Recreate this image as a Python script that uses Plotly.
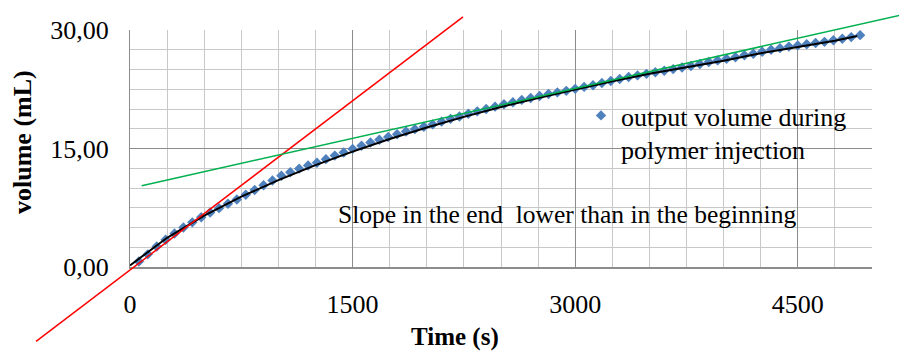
import plotly.graph_objects as go

# ---- data ----
time_s = [60, 120, 180, 240, 300, 360, 420, 480, 540, 600, 660, 720, 780, 840, 900, 960,
          1020, 1080, 1140, 1200, 1260, 1320, 1380, 1440, 1500, 1560, 1620, 1680, 1740,
          1800, 1860, 1920, 1980, 2040, 2100, 2160, 2220, 2280, 2340, 2400, 2460, 2520,
          2580, 2640, 2700, 2760, 2820, 2880, 2940, 3000, 3060, 3120, 3180, 3240, 3300,
          3360, 3420, 3480, 3540, 3600, 3660, 3720, 3780, 3840, 3900, 3960, 4020, 4080,
          4140, 4200, 4260, 4320, 4380, 4440, 4500, 4560, 4620, 4680, 4740, 4800, 4860, 4920]
volume_ml = [0.7, 1.6, 2.6, 3.45, 4.25, 5.0, 5.65, 6.3, 6.9, 7.45, 8.0, 8.55, 9.15, 9.75,
             10.35, 10.95, 11.55, 12.0, 12.45, 12.85, 13.2, 13.65, 14.1, 14.5, 14.95, 15.35,
             15.75, 16.1, 16.45, 16.8, 17.15, 17.45, 17.75, 18.05, 18.4, 18.75, 19.05, 19.4,
             19.7, 20.0, 20.3, 20.6, 20.85, 21.15, 21.4, 21.65, 21.9, 22.1, 22.3, 22.55, 22.8,
             23.0, 23.3, 23.55, 23.8, 24.05, 24.25, 24.45, 24.65, 24.85, 25.05, 25.25, 25.45,
             25.7, 25.95, 26.15, 26.35, 26.55, 26.8, 27.0, 27.25, 27.5, 27.7, 27.9, 28.05,
             28.2, 28.35, 28.5, 28.7, 28.9, 29.1, 29.35]

# polynomial trend curve (black)
trend_t = [0, 250, 500, 750, 1000, 1250, 1500, 1750, 2000, 2250, 2500, 2750, 3000,
           3250, 3500, 3750, 4000, 4250, 4500, 4750, 4900]
trend_v = [0.2, 3.7, 6.5, 8.9, 11.0, 12.9, 14.6, 16.2, 17.65, 19.0, 20.25, 21.4, 22.45,
           23.5, 24.45, 25.3, 26.1, 27.05, 27.85, 28.65, 29.25]

# linear slope lines: [slope, intercept, t_start, t_end]
early_slope = [0.01428, -0.38, -633, 2244]
late_slope = [0.00422, 9.96, 79, 5400]

x_ticks = [0, 1500, 3000, 4500]
y_ticks = [0, 15, 30]
legend_label = "output volume during<br>polymer injection"
note_text = "Slope in the end&nbsp; lower than in the beginning"
x_title = "Time (s)"
y_title = "volume (mL)"

# ---- layout geometry ----
W, H = 899, 351
L, R, T, B = 130, 872, 30, 267
x_rng = [0, 5000]
y_rng = [0, 30]
xd = [L / W, R / W]
yd = [1 - B / H, 1 - T / H]
# overlay axes spanning the whole figure, same scale as main axes
sx = (x_rng[1] - x_rng[0]) / (R - L)
sy = (y_rng[1] - y_rng[0]) / (B - T)
x2_rng = [x_rng[0] - L * sx, x_rng[1] + (W - R) * sx]
y2_rng = [y_rng[0] - (H - B) * sy, y_rng[1] + T * sy]

FONT = "Liberation Serif, Times New Roman, serif"
FS = 26

fig = go.Figure()
fig.add_trace(go.Scatter(
    x=time_s, y=volume_ml, mode="markers", name=legend_label,
    marker=dict(symbol="diamond", size=8, color="#4F81BD", line=dict(width=0)),
    showlegend=True, xaxis="x", yaxis="y"))
fig.add_trace(go.Scatter(
    x=trend_t, y=trend_v, mode="lines", line=dict(color="black", width=2),
    showlegend=False, xaxis="x", yaxis="y"))

for (m, b, t0, t1), col in [(early_slope, "#FF0000"), (late_slope, "#00B050")]:
    fig.add_trace(go.Scatter(
        x=[t0, t1], y=[m * t0 + b, m * t1 + b], mode="lines",
        line=dict(color=col, width=1.5), showlegend=False,
        xaxis="x2", yaxis="y2", hoverinfo="skip"))

fig.update_layout(
    width=W, height=H,
    margin=dict(l=0, r=0, t=0, b=0, pad=0),
    paper_bgcolor="white", plot_bgcolor="rgba(0,0,0,0)",
    font=dict(family=FONT, size=FS, color="black"),
    separators=",.",
    xaxis=dict(domain=xd, range=x_rng, anchor="y", tickvals=x_ticks,
               showgrid=True, gridcolor="#8C8C8C", gridwidth=1,
               minor=dict(dtick=250, tick0=0, showgrid=True, gridcolor="#C8C8C8", gridwidth=1),
               showline=True, linecolor="#8C8C8C", linewidth=2,
               ticks="outside", ticklen=13, tickcolor="rgba(0,0,0,0)",
               zeroline=False, automargin=False,
               tickfont=dict(family=FONT, size=FS)),
    yaxis=dict(domain=yd, range=y_rng, anchor="x", tickvals=y_ticks, tickformat=".2f",
               showgrid=True, gridcolor="#8C8C8C", gridwidth=1,
               minor=dict(dtick=2.5, tick0=0, showgrid=True, gridcolor="#C8C8C8", gridwidth=1),
               showline=True, linecolor="#8C8C8C", linewidth=1,
               ticks="outside", ticklen=15, tickcolor="rgba(0,0,0,0)",
               zeroline=False, automargin=False,
               tickfont=dict(family=FONT, size=FS)),
    xaxis2=dict(domain=[0, 1], range=x2_rng, anchor="y2", visible=False,
                showgrid=False, zeroline=False),
    yaxis2=dict(domain=[0, 1], range=y2_rng, anchor="x2", visible=False,
                showgrid=False, zeroline=False),
    legend=dict(x=581 / W, y=1 - 92 / H, xanchor="left", yanchor="top",
                bgcolor="rgba(0,0,0,0)", borderwidth=0, valign="top",
                font=dict(family=FONT, size=FS), itemwidth=30),
    showlegend=True,
    annotations=[
        dict(text=note_text, xref="paper", yref="paper", x=336 / W, y=1 - 214 / H,
             xanchor="left", yanchor="middle", showarrow=False,
             font=dict(family=FONT, size=25.5)),
        dict(text="<b>" + x_title + "</b>", xref="paper", yref="paper", x=455 / W,
             y=1 - 337 / H, xanchor="center", yanchor="middle", showarrow=False,
             font=dict(family=FONT, size=25)),
        dict(text="<b>" + y_title + "</b>", xref="paper", yref="paper", x=22 / W,
             y=1 - 142 / H, xanchor="center", yanchor="middle", showarrow=False,
             textangle=-90, font=dict(family=FONT, size=FS)),
    ],
)

fig.write_html("out.html")
